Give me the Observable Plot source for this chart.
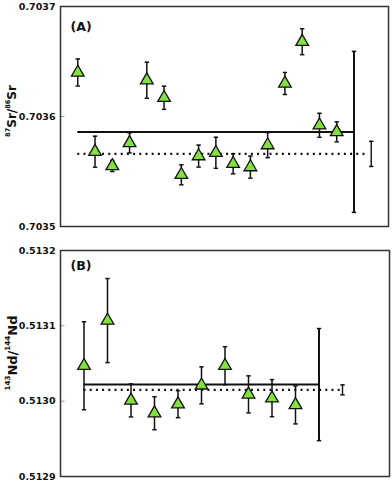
<!DOCTYPE html>
<html><head><meta charset="utf-8">
<script src="https://cdn.jsdelivr.net/npm/d3@7"></script>
<script src="https://cdn.jsdelivr.net/npm/@observablehq/plot@0.6"></script>
<style>
body{margin:0;background:#fff;font-family:"DejaVu Sans",sans-serif}
#chart svg{display:block}
</style>
</head><body><div id="chart"></div>
<script>
// Panel A: 87Sr/86Sr
const srSamples = [1,2,3,4,5,6,7,8,9,10,11,12,13,14,15,16];
const srValues = [0.703640,0.703568,0.703555,0.703576,0.703633,0.703617,0.703547,0.703564,0.703567,0.703557,0.703554,0.703574,0.703630,0.703668,0.703592,0.703586];
const srErrors = [0.0000123,0.0000141,0.0000050,0.0000091,0.0000164,0.0000105,0.0000091,0.0000100,0.0000141,0.0000091,0.0000100,0.0000114,0.0000100,0.0000118,0.0000109,0.0000091];
const srMean = 0.703586, srMeanErr = 0.0000732, srMeanPos = 17;
const srWMean = 0.703566, srWMeanErr = 0.0000114, srWMeanPos = 18;
const srTicks = [0.7035, 0.7036, 0.7037];

// Panel B: 143Nd/144Nd
const ndSamples = [1,2,3,4,5,6,7,8,9,10];
const ndValues = [0.513047,0.513107,0.513001,0.512984,0.512996,0.513021,0.513047,0.513009,0.513004,0.512995];
const ndErrors = [0.0000584,0.0000558,0.0000219,0.0000219,0.0000179,0.0000246,0.0000252,0.0000246,0.0000246,0.0000252];
const ndMean = 0.513022, ndMeanErr = 0.0000744, ndMeanPos = 11;
const ndWMean = 0.513015, ndWMeanErr = 0.0000066, ndWMeanPos = 12;
const ndTicks = [0.5129, 0.5130, 0.5131, 0.5132];

const capSymbol = {draw(ctx, size){ const r = Math.sqrt(size/Math.PI); ctx.moveTo(-r,0); ctx.lineTo(r,0); }};
const inTickSymbol = {draw(ctx, size){ const r = Math.sqrt(size/Math.PI); ctx.moveTo(0,0); ctx.lineTo(r,0); }};

function panel(o){
  const pts = o.samples.map((s,i)=>({x:s, y:o.values[i], lo:o.values[i]-o.errors[i], hi:o.values[i]+o.errors[i]}));
  const sums = [
    {x:o.meanPos, y:o.mean, lo:o.mean-o.meanErr, hi:o.mean+o.meanErr, w:2},
    {x:o.wPos, y:o.wmean, lo:o.wmean-o.wErr, hi:o.wmean+o.wErr, w:1.4}
  ];
  const caps = pts.flatMap(d=>[{x:d.x,y:d.lo},{x:d.x,y:d.hi}]).concat(sums.flatMap(d=>[{x:d.x,y:d.lo},{x:d.x,y:d.hi}]));
  const svg = Plot.plot({
    width: 392, height: o.height,
    marginTop: o.mt, marginBottom: o.mb, marginLeft: 60, marginRight: o.mr,
    style: {fontFamily: "DejaVu Sans", fontSize: "9.5px", background: "#fff"},
    x: {domain: [0, o.xMax], axis: null},
    y: {domain: o.yDomain},
    marks: [
      Plot.dot(o.ticks, {x: 0, y: d => d, symbol: inTickSymbol, r: 4, stroke: "#999", strokeWidth: 1, fill: "none"}),
      Plot.frame({stroke: "#333", strokeWidth: 1.5}),
      Plot.axisY(o.ticks, {tickSize: 0, tickPadding: 5, tickFormat: d => d.toFixed(4), fontWeight: "bold", fontSize: 9.5, fill: "#111"}),
      Plot.ruleY([o.mean], {x1: o.samples[0], x2: o.meanPos, stroke: "#111", strokeWidth: 2}),
      Plot.ruleY([o.wmean], {x1: o.samples[0], x2: o.dotEnd, stroke: "#111", strokeWidth: 2.2, strokeDasharray: "2,4.2"}),
      Plot.ruleX(sums, {x: "x", y1: "lo", y2: "hi", stroke: "#111", strokeWidth: "w"}),
      Plot.ruleX(pts, {x: "x", y1: "lo", y2: "hi", stroke: "#111", strokeWidth: 1.5}),
      Plot.dot(caps, {x: "x", y: "y", symbol: capSymbol, r: 2.2, stroke: "#111", strokeWidth: 1.5, fill: "none"}),
      Plot.dot(pts, {x: "x", y: "y", symbol: "triangle", r: 4.7, fill: "#84e03e", stroke: "#111", strokeWidth: 1.3}),
      Plot.text([o.tag], {frameAnchor: "top-left", dx: 10, dy: o.tagDy, lineAnchor: "top", textAnchor: "start", fontWeight: "bold", fontSize: 12.5, fill: "#111"})
    ]
  });
  const t = d3.select(svg).append("text")
    .attr("transform", `translate(12,${o.labelY}) rotate(-90)`)
    .attr("text-anchor", "middle")
    .attr("dominant-baseline", "central")
    .attr("font-family", "DejaVu Sans")
    .attr("font-weight", "bold")
    .attr("font-size", o.labelSize)
    .attr("fill", "#111");
  o.label.forEach((p,i)=>{
    const ts = t.append("tspan").text(p.t);
    if (p.sup) ts.attr("font-size", o.labelSize*0.55).attr("dy", -o.labelSize*0.35);
    else if (i>0 && o.label[i-1].sup) ts.attr("dy", o.labelSize*0.35);
  });
  return svg;
}

const chart = document.getElementById("chart");
chart.append(panel({
  samples: srSamples, values: srValues, errors: srErrors,
  mean: srMean, meanErr: srMeanErr, meanPos: srMeanPos,
  wmean: srWMean, wErr: srWMeanErr, wPos: srWMeanPos, dotEnd: 17.75,
  xMax: 19, yDomain: [0.7035, 0.7037], ticks: srTicks,
  height: 238, mt: 6, mb: 12, mr: 4, tag: "(A)", tagDy: 16,
  label: [{t:"87",sup:true},{t:"Sr/"},{t:"86",sup:true},{t:"Sr"}], labelY: 111, labelSize: 12
}));
chart.append(panel({
  samples: ndSamples, values: ndValues, errors: ndErrors,
  mean: ndMean, meanErr: ndMeanErr, meanPos: ndMeanPos,
  wmean: ndWMean, wErr: ndWMeanErr, wPos: ndWMeanPos, dotEnd: 11.9,
  xMax: 14, yDomain: [0.5129, 0.5132], ticks: ndTicks,
  height: 243, mt: 12, mb: 5, mr: 3, tag: "(B)", tagDy: 11,
  label: [{t:"143",sup:true},{t:"Nd/"},{t:"144",sup:true},{t:"Nd"}], labelY: 115, labelSize: 13
}));
</script>
</body></html>
